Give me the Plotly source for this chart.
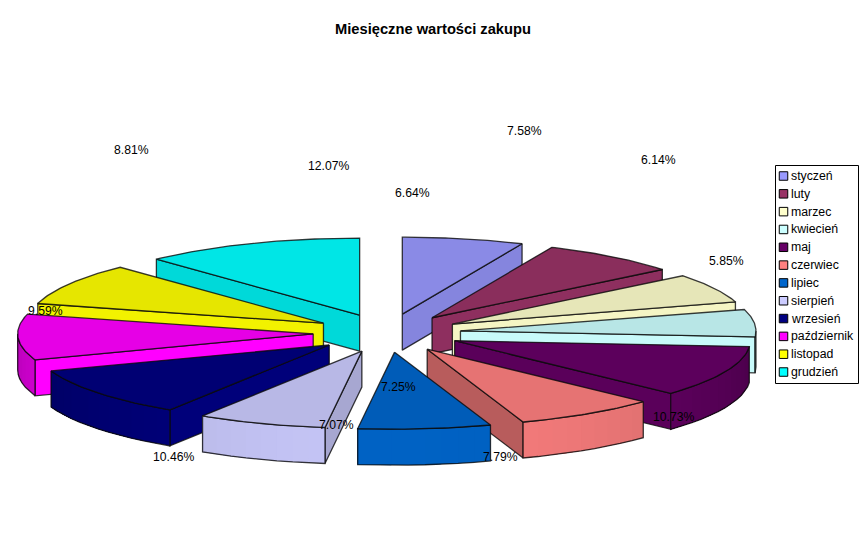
import math
import plotly.graph_objects as go

# ---- data ----
months = ["styczeń", "luty", "marzec", "kwiecień", "maj", "czerwiec", "lipiec",
          "sierpień", "wrzesień", "październik", "listopad", "grudzień"]
shares = [6.64, 7.58, 6.14, 5.85, 10.73, 7.79, 7.25, 7.07, 10.46, 9.59, 8.81, 12.07]
colors = ["#9999FF", "#993366", "#FFFFCC", "#CCFFFF", "#660066", "#FF8080", "#0066CC",
          "#CCCCFF", "#000080", "#FF00FF", "#FFFF00", "#00FFFF"]
title_text = "Miesięczne wartości zakupu"

# ---- styles / layout ----
W, H = 867, 548
CX, CY, RX, RY = 387.0, 333.0, 295.5, 77.0
DEPTH, EXPLODE = 36.0, 0.25
TOP_SHADE = 0.9
FACE_SHADE = [0.87, 0.93, 0.96, 0.98, 0.88, 0.72, 1.0, 0.82, 0.95, 1.0, 0.95, 0.85]
EDGE = "rgba(10,10,10,0.8)"
LABEL_POS = [(412, 193), (524, 131), (658, 160), (726, 261), (673, 417), (500, 457),
             (398, 387), (336, 425), (173, 457), (45, 311), (131, 150), (328, 166)]
FONT = "Liberation Sans"


def shade(hex_color, k):
    r, g, b = (int(hex_color[i:i + 2], 16) for i in (1, 3, 5))
    return f"rgb({min(255, round(r * k))},{min(255, round(g * k))},{min(255, round(b * k))})"


def wall_shade(deg):
    return 0.72 + 0.24 * abs(math.cos(math.radians(deg)))


def poly(fig, pts, fill, line=EDGE, width=1.3):
    fig.add_trace(go.Scatter(
        x=[p[0] for p in pts] + [pts[0][0]], y=[p[1] for p in pts] + [pts[0][1]],
        mode="lines", fill="toself", fillcolor=fill,
        line=dict(color=line, width=width),
        hoverinfo="skip", showlegend=False))


def steps(a, b, n):
    return [a + (b - a) * i / n for i in range(n + 1)]


fig = go.Figure()

total = sum(shares)
slices = []
acc = 0.0
for i, s in enumerate(shares):
    a0 = acc / total * 360
    acc += s
    a1 = acc / total * 360
    slices.append((i, a0, a1))

# paint from the back of the pie to the front
mid = lambda t: (t[1] + t[2]) / 2
for i, a0, a1 in sorted(slices, key=lambda t: -math.cos(math.radians(mid(t)))):
    m = math.radians((a0 + a1) / 2)
    ax = CX + EXPLODE * RX * math.sin(m)
    ay = CY - EXPLODE * RY * math.cos(m)
    pt = lambda deg, dz=0.0: (ax + RX * math.sin(math.radians(deg)),
                              ay - RY * math.cos(math.radians(deg)) + dz)
    col = colors[i]
    # radial side faces
    if a1 < 180:
        poly(fig, [(ax, ay), pt(a1), pt(a1, DEPTH), (ax, ay + DEPTH)], shade(col, FACE_SHADE[i]))
    if a0 > 180:
        poly(fig, [(ax, ay), pt(a0), pt(a0, DEPTH), (ax, ay + DEPTH)], shade(col, FACE_SHADE[i]))
    # curved outer wall: each strip overlaps everything after it, so no seams show
    w0, w1 = max(a0, 90), min(a1, 270)
    if w1 > w0:
        n = max(2, int((w1 - w0) / 3))
        ang = steps(w0, w1, n)
        for j in range(n):
            rest = ang[j:]
            outline = [pt(d) for d in rest] + [pt(d, DEPTH) for d in reversed(rest)]
            poly(fig, outline, shade(col, wall_shade((ang[j] + ang[j + 1]) / 2)), width=0)
        fig.add_trace(go.Scatter(
            x=[pt(d)[0] for d in ang] + [pt(d, DEPTH)[0] for d in reversed(ang)] + [pt(w0)[0]],
            y=[pt(d)[1] for d in ang] + [pt(d, DEPTH)[1] for d in reversed(ang)] + [pt(w0)[1]],
            mode="lines", line=dict(color=EDGE, width=1.3), hoverinfo="skip", showlegend=False))
    # top face
    top = [(ax, ay)] + [pt(d) for d in steps(a0, a1, 40)]
    poly(fig, top, shade(col, TOP_SHADE))

# legend, drawn to the reference's compact proportions
LEG_Y = [176 + k * 17.82 for k in range(len(months))]
fig.add_trace(go.Scatter(
    x=[783.5] * len(months), y=LEG_Y, mode="markers",
    marker=dict(symbol="square", size=8.5, color=colors, line=dict(color="black", width=1)),
    text=months, hovertemplate="%{text}<extra></extra>", showlegend=False))
annotations = [dict(x=791, y=y, text=name, xref="x", yref="y", xanchor="left", yanchor="middle",
                    showarrow=False, xshift=-2, font=dict(family=FONT, size=12.3, color="black"))
               for name, y in zip(months, LEG_Y)]
for share, (lx, ly) in zip(shares, LABEL_POS):
    annotations.append(dict(x=lx, y=ly, text=f"{share:.2f}%", xref="x", yref="y",
                            showarrow=False, font=dict(family=FONT, size=12.2, color="black")))

fig.update_layout(
    width=W, height=H, margin=dict(l=0, r=0, t=0, b=0), paper_bgcolor="white", plot_bgcolor="white",
    showlegend=False,
    xaxis=dict(range=[0, W], visible=False, fixedrange=True),
    yaxis=dict(range=[H, 0], visible=False, fixedrange=True),
    title=dict(text=f"<b>{title_text}</b>", x=433 / W, xanchor="center", y=1 - 29 / H, yanchor="middle",
               font=dict(family=FONT, size=14.7, color="black")),
    shapes=[dict(type="rect", xref="x", yref="y", x0=775.5, x1=858.5, y0=165.5, y1=383.5,
                 line=dict(color="black", width=1), layer="below")],
    annotations=annotations)

fig.write_html("out.html", config={"displayModeBar": False},
               post_script="document.body.style.margin='0';")
